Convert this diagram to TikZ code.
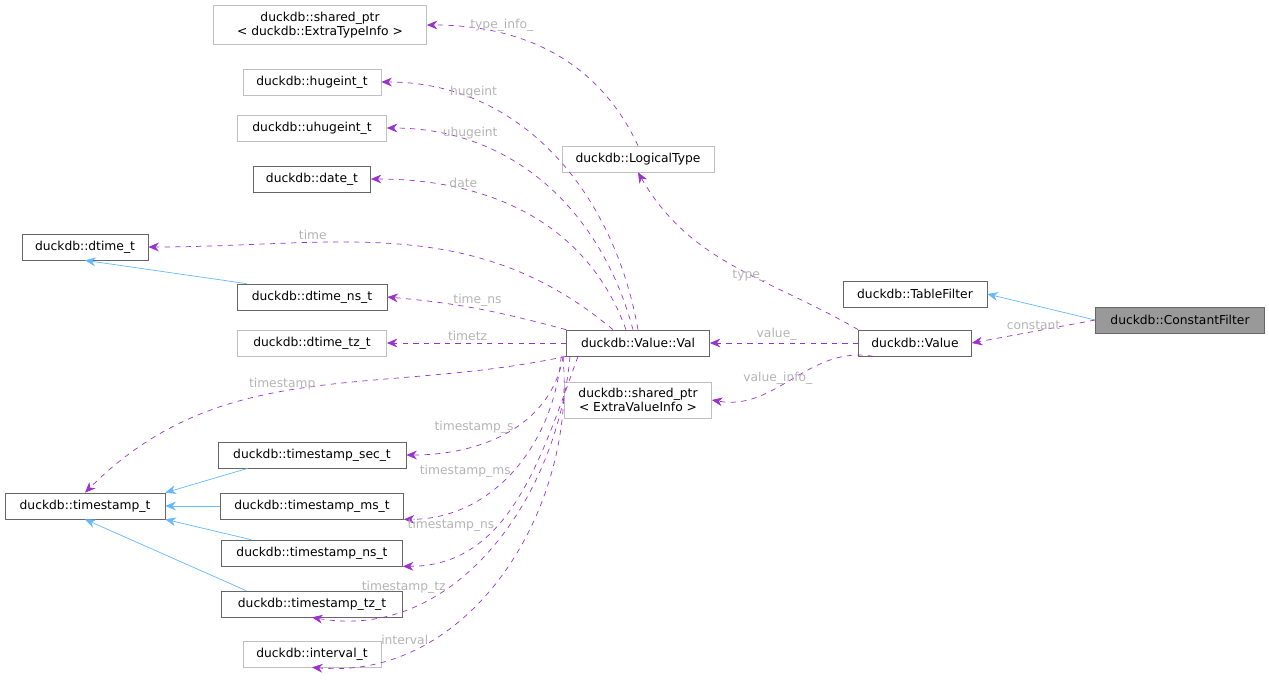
\documentclass[tikz,border=0pt]{standalone}
\usepackage{fontspec}
\setmainfont{DejaVu Sans}
\usetikzlibrary{arrows.meta}

\definecolor{edgeuse}{HTML}{9A32CD}
\definecolor{edgeinh}{HTML}{63B8FF}
\definecolor{lblgray}{HTML}{B4B4B4}
\definecolor{boxdark}{HTML}{666666}
\definecolor{boxlight}{HTML}{BFBFBF}

\tikzset{
  cls/.style={draw=boxdark, fill=white, font=\fontsize{7}{8.4}\selectfont, inner xsep=4pt, minimum height=0.52cm, align=center},
  ext/.style={cls, draw=boxlight},
  cur/.style={cls, fill=black!40},
  inh/.style={draw=edgeinh, -{Stealth[length=6pt,width=5pt,fill=edgeinh]}},
  use/.style={draw=edgeuse, dashed, -{Stealth[length=6pt,width=5pt,fill=edgeuse]}},
  lbl/.style={text=lblgray, font=\fontsize{7}{8}\selectfont, inner sep=1pt}
}

\begin{document}
\begin{tikzpicture}[x=0.02cm, y=-0.02cm]
      \useasboundingbox (0,0) rectangle (1269,683);
      % members on the left
      \node[ext, minimum width=4.26cm] (sptype) at (320,25) {duckdb::shared\_ptr\\< duckdb::ExtraTypeInfo >};
      \node[ext, minimum width=2.76cm] (hugeint) at (312,82) {duckdb::hugeint\_t};
      \node[ext, minimum width=2.98cm] (uhugeint) at (312,128) {duckdb::uhugeint\_t};
      \node[cls, minimum width=2.34cm] (date) at (312,179) {duckdb::date\_t};
      \node[cls, minimum width=2.52cm] (dtime) at (85,247) {duckdb::dtime\_t};
      \node[cls, minimum width=3.0cm] (dtimens) at (312,297) {duckdb::dtime\_ns\_t};
      \node[ext, minimum width=2.98cm] (dtimetz) at (312,343) {duckdb::dtime\_tz\_t};
      \node[cls, minimum width=3.2cm] (ts) at (85,506) {duckdb::timestamp\_t};
      \node[cls, minimum width=3.76cm] (tssec) at (312,455) {duckdb::timestamp\_sec\_t};
      \node[cls, minimum width=3.66cm] (tsms) at (312,506) {duckdb::timestamp\_ms\_t};
      \node[cls, minimum width=3.62cm] (tsns) at (312,553) {duckdb::timestamp\_ns\_t};
      \node[cls, minimum width=3.62cm] (tstz) at (312,604) {duckdb::timestamp\_tz\_t};
      \node[ext, minimum width=2.76cm] (interval) at (312,654) {duckdb::interval\_t};
      % middle and right
      \node[ext, minimum width=3.04cm] (logtype) at (638,159) {duckdb::LogicalType};
      \node[cls, minimum width=2.86cm] (val) at (638,343) {duckdb::Value::Val};
      \node[ext, minimum width=2.94cm] (spvalue) at (638,400) {duckdb::shared\_ptr\\< ExtraValueInfo >};
      \node[cls, minimum width=2.88cm] (tablefilter) at (915,294) {duckdb::TableFilter};
      \node[cls, minimum width=2.26cm] (value) at (915,343) {duckdb::Value};
      \node[cur, minimum width=3.38cm] (constfilter) at (1180,320) {duckdb::ConstantFilter};

      % inheritance
      \draw[inh] (constfilter.west) -- (tablefilter.east);
      \draw[inh] (dtimens.north west) ++(10,0) coordinate (dn) (dn) -- (dtime.south);
      \draw[inh] (tssec.south west) ++(30,0) coordinate (sa) (sa) -- (ts.north east);
      \draw[inh] (tsms.west) -- (ts.east);
      \draw[inh] (tsns.north west) ++(30,0) coordinate (na) (na) -- (ts.south east);
      \draw[inh] (tstz.north west) ++(25,0) coordinate (za) (za) -- (ts.south);

      % usage
      \draw[use] (constfilter.west) -- node[lbl, above] {constant} (value.east);
      \draw[use] (value.west) -- node[lbl, above, pos=0.55] {value\_} (val.east);
      \draw[use] (value.north west) to[out=150, in=-60] node[lbl, pos=0.35, above left] {type\_} (logtype.south);
      \draw[use] (value.south west) ++(15,0) coordinate (vs) (vs) to[out=170, in=-10] node[lbl, pos=0.6, above] {value\_info\_} (spvalue.east);
      \draw[use] (logtype.north) to[out=115, in=0] node[lbl, pos=0.72, above] {type\_info\_} (sptype.east);
      \draw[use] (val.north) to[out=100, in=0] node[lbl, pos=0.76, above] {hugeint} (hugeint.east);
      \draw[use] (val.north) ++(-5,0) coordinate (v2) (v2) to[out=105, in=0] node[lbl, pos=0.76, above] {uhugeint} (uhugeint.east);
      \draw[use] (val.north) ++(-12,0) coordinate (v3) (v3) to[out=110, in=0] node[lbl, pos=0.72, above] {date} (date.east);
      \draw[use] (val.north) ++(-25,0) coordinate (v4) (v4) to[out=140, in=0] node[lbl, pos=0.68, above] {time} (dtime.east);
      \draw[use] (val.north west) to[out=165, in=-5] node[lbl, pos=0.5, above] {time\_ns} (dtimens.east);
      \draw[use] (val.west) -- node[lbl, pos=0.55, above] {timetz} (dtimetz.east);
      \draw[use] (val.south west) to[out=192, in=45] node[lbl, pos=0.55, above] {timestamp} (ts.north);
      \draw[use] (val.south west) ++(-3,0) coordinate (w1) (w1) to[out=-100, in=0] node[lbl, pos=0.45, left] {timestamp\_s} (tssec.east);
      \draw[use] (val.south west) ++(-5,0) coordinate (w2) (w2) to[out=-95, in=0] node[lbl, pos=0.5, left] {timestamp\_ms} (tsms.south east);
      \draw[use] (val.south) ++(-60,0) coordinate (w3) (w3) to[out=-110, in=0] node[lbl, pos=0.62, left] {timestamp\_ns} (tsns.south east);
      \draw[use] (val.south) ++(-68,0) coordinate (w4) (w4) to[out=-95, in=-10] node[lbl, pos=0.64, left] {timestamp\_tz} (tstz.south);
      \draw[use] (val.south) ++(-75,0) coordinate (w5) (w5) to[out=-85, in=-5] node[lbl, pos=0.72, left] {interval} (interval.south);
\end{tikzpicture}
\end{document}
